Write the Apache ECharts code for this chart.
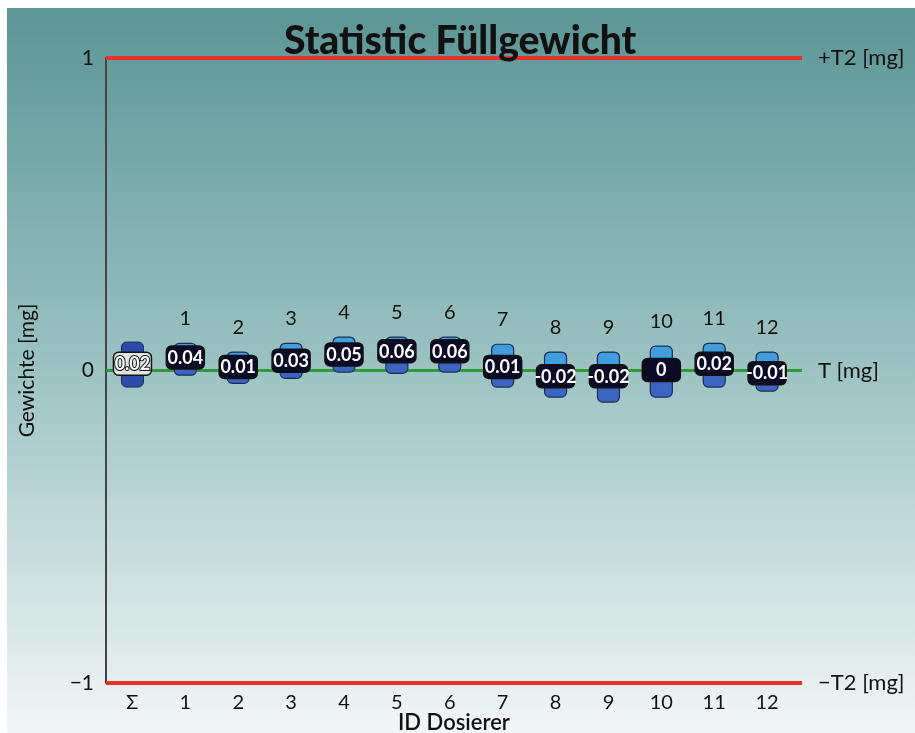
<!DOCTYPE html>
<html>
<head>
<meta charset="utf-8">
<script src="https://cdn.jsdelivr.net/npm/echarts@6/dist/echarts.min.js"></script>
<style>
html,body{margin:0;padding:0;background:#fff;width:915px;height:733px;overflow:hidden;}
#chart{position:absolute;left:7px;top:8px;width:908px;height:725px;}
</style>
</head>
<body>
<div id="chart"></div>
<script>
// ---- data ----
const categories = ['Σ','1','2','3','4','5','6','7','8','9','10','11','12'];
const means = [0.02, 0.04, 0.01, 0.03, 0.05, 0.06, 0.06, 0.01, -0.02, -0.02, 0, 0.02, -0.01];
const highs = [0.091, 0.087, 0.059, 0.087, 0.107, 0.107, 0.107, 0.084, 0.059, 0.059, 0.078, 0.087, 0.059];
const lows  = [-0.053, -0.015, -0.041, -0.025, -0.005, -0.009, -0.005, -0.053, -0.085, -0.101, -0.085, -0.053, -0.066];
const yTickLabels = {'1': '1', '0': '0', '-1': '\u22121'};
const rightLabels = {'1': '+T2 [mg]', '0': 'T [mg]', '-1': '\u2212T2 [mg]'};
const limitUpper = 1, limitLower = -1, target = 0;

const FONT = 'Lato';
const seriesData = categories.map((c, i) => [i, means[i], highs[i], lows[i]]);

const chart = echarts.init(document.getElementById('chart'));
chart.setOption({
  backgroundColor: new echarts.graphic.LinearGradient(0, 0, 0, 1, [
    {offset: 0, color: '#5c9595'},
    {offset: 0.5, color: '#9dc3c3'},
    {offset: 1, color: '#f3f6f6'}
  ]),
  animation: false,
  title: {
    text: 'Statistic Füllgewicht',
    left: 272,
    top: 9,
    textStyle: {fontFamily: FONT, fontWeight: 900, fontSize: 39, color: '#111'}
  },
  grid: {left: 99, right: 113, top: 50, bottom: 50, containLabel: false, outerBoundsMode: 'none'},
  xAxis: {
    type: 'value',
    min: -0.5, max: 12.66,
    name: 'ID Dosierer',
    nameLocation: 'middle',
    nameGap: 29,
    nameMoveOverlap: false,
    nameTextStyle: {fontFamily: FONT, fontSize: 22, fontWeight: 600, color: '#111'},
    axisLine: {show: false},
    splitLine: {show: false},
    axisTick: {show: true, inside: true, length: 5, lineStyle: {color: '#444', width: 1}, customValues: categories.map((c, i) => i)},
    axisLabel: {
      customValues: categories.map((c, i) => i),
      formatter: v => categories[v],
      margin: 10,
      fontFamily: FONT, fontSize: 20, color: '#111'
    }
  },
  yAxis: [{
    type: 'value', min: -1, max: 1, interval: 1,
    name: 'Gewichte [mg]',
    nameLocation: 'middle',
    nameRotate: 90,
    nameGap: 68,
    nameMoveOverlap: false,
    nameTextStyle: {fontFamily: FONT, fontSize: 21, color: '#111'},
    axisLine: {show: true, onZero: false, lineStyle: {color: '#444', width: 2}},
    axisTick: {show: false},
    splitLine: {show: false},
    axisLabel: {formatter: v => yTickLabels[String(v)], margin: 12, fontFamily: FONT, fontSize: 21, color: '#111'}
  }, {
    type: 'value', min: -1, max: 1, interval: 1, position: 'right',
    axisLine: {show: false}, axisTick: {show: false}, splitLine: {show: false},
    axisLabel: {formatter: v => rightLabels[String(v)], margin: 16, fontFamily: FONT, fontSize: 22, color: '#111'}
  }],
  series: [{
    type: 'line',
    data: [],
    silent: true,
    markLine: {
      silent: true,
      symbol: 'none',
      z: 1,
      label: {show: false},
      data: [
        {yAxis: limitUpper, lineStyle: {color: '#e8302e', width: 4, type: 'solid'}},
        {yAxis: limitLower, lineStyle: {color: '#e8302e', width: 4, type: 'solid'}},
        {yAxis: target, lineStyle: {color: '#2f9b3c', width: 3, type: 'solid'}}
      ]
    }
  }, {
    type: 'custom',
    z: 10,
    data: seriesData,
    clip: false,
    renderItem: function (params, api) {
      const i = api.value(0);
      const pM = api.coord([i, api.value(1)]);
      const pH = api.coord([i, api.value(2)]);
      const pL = api.coord([i, api.value(3)]);
      const x = pM[0];
      const bw = 22;
      const children = [];
      if (i === 0) {
        children.push({type: 'rect', shape: {x: x - bw / 2, y: pH[1], width: bw, height: pL[1] - pH[1], r: 5},
          style: {fill: '#2c4ba8', stroke: '#1c2c5c', lineWidth: 1}});
      } else {
        children.push({type: 'rect', shape: {x: x - bw / 2, y: pH[1], width: bw, height: pM[1] - pH[1], r: [5, 5, 0, 0]},
          style: {fill: '#3f9edb', stroke: '#1e2b55', lineWidth: 1.2}});
        children.push({type: 'rect', shape: {x: x - bw / 2, y: pM[1], width: bw, height: pL[1] - pM[1], r: [0, 0, 5, 5]},
          style: {fill: '#3c65c2', stroke: '#1e2b55', lineWidth: 1.2}});
      }
      children.push({type: 'rect', shape: {x: x - 19, y: pM[1] - 12, width: 38, height: 23, r: 5},
        style: {fill: i === 0 ? '#e0e5e5' : '#0b0b25', stroke: '#111', lineWidth: 1.5}});
      children.push({type: 'text', style: {x: x, y: pM[1], text: String(means[i]), fill: '#fff',
        font: 'bold 18px ' + FONT, align: 'center', verticalAlign: 'middle',
        stroke: i === 0 ? '#111' : null, lineWidth: i === 0 ? 2 : 0}});
      if (i > 0) {
        children.push({type: 'text', style: {x: x, y: pH[1] - 25, text: categories[i], fill: '#111',
          font: '20px ' + FONT, align: 'center', verticalAlign: 'middle'}});
      }
      return {type: 'group', children: children};
    }
  }]
});
</script>
</body>
</html>
